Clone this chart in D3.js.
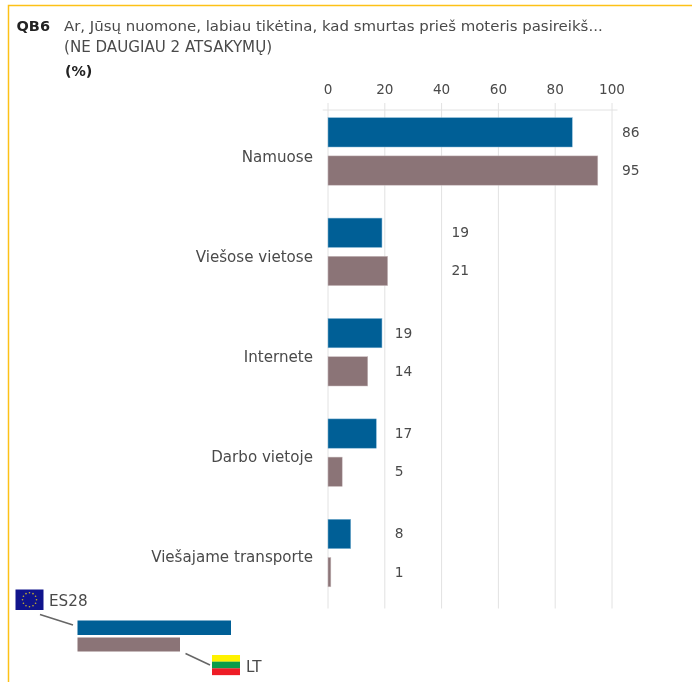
<!DOCTYPE html>
<html><head><meta charset="utf-8">
<script src="https://cdn.jsdelivr.net/npm/d3@7"></script>
<style>html,body{margin:0;padding:0;background:#fff}svg{display:block;filter:blur(0.35px)}text{font-family:"DejaVu Sans",sans-serif}</style>
</head><body><svg id="c" width="692" height="682"></svg>
<script>
const categories=["Namuose","Viešose vietose","Internete","Darbo vietoje","Viešajame transporte"];
const es28=[86,19,19,17,8];
const lt=[95,21,14,5,1];
const ticks=[0,20,40,60,80,100];
const titleCode="QB6";
const titleLines=["Ar, Jūsų nuomone, labiau tikėtina, kad smurtas prieš moteris pasireikš...","(NE DAUGIAU 2 ATSAKYMŲ)"];
const unit="(%)";
const legendNames=["ES28","LT"];

const BLUE="#005f96",BROWN="#8b7477",TXT="#4a4a4a";
const svg=d3.select("#c");
svg.append("path").attr("d","M8.5,682V5.5H692").attr("fill","none").attr("stroke","#fdc117").attr("stroke-width",1.5);

const x=d3.scaleLinear().domain([0,100]).range([328,612]);
const y=d3.scaleBand().domain(categories).range([117.7,619.7]);
const barH=29.3, barGap=38.2;

svg.append("g").selectAll("line").data(ticks).join("line")
 .attr("x1",d=>x(d)).attr("x2",d=>x(d)).attr("y1",103).attr("y2",608.5)
 .attr("stroke","#e2e2e2").attr("stroke-width",1);
svg.append("line").attr("x1",322.7).attr("x2",617.5).attr("y1",110).attr("y2",110).attr("stroke","#e2e2e2");

svg.append("g").selectAll("text").data(ticks).join("text")
 .attr("x",d=>x(d)).attr("y",94).attr("text-anchor","middle").attr("font-size",13.6).attr("fill",TXT).text(d=>d);

const g=svg.append("g").selectAll("g").data(categories).join("g")
 .attr("transform",d=>`translate(0,${y(d)})`);
[es28,lt].forEach((vals,s)=>{
 g.append("rect").attr("x",x(0)).attr("y",s*barGap)
  .attr("width",(d,i)=>x(vals[i])-x(0)).attr("height",barH)
  .attr("fill",s?BROWN:BLUE).attr("stroke",s?"#c9bcbe":"#7fb4d4").attr("stroke-width",0.5);
 g.append("text")
  .attr("x",(d,i)=>x(Math.ceil(Math.max(es28[i],lt[i])/20)*20)+10)
  .attr("y",s*barGap+barH/2+4.5)
  .attr("font-size",13.8).attr("fill",TXT).text((d,i)=>vals[i]);
});
g.append("text").attr("x",313).attr("y",(d,i)=>44.5-i*0.4).attr("text-anchor","end")
 .attr("font-size",15.1).attr("fill",TXT).text(d=>d);

const t=svg.append("g");
t.append("text").attr("x",16.5).attr("y",30.5).attr("font-size",14.5).attr("font-weight",700).attr("fill","#222").text(titleCode);
titleLines.forEach((l,i)=>t.append("text").attr("x",64).attr("y",31+i*20.5).attr("font-size",i?15.1:14.95).attr("fill",TXT).text(l));
t.append("text").attr("x",65).attr("y",75.5).attr("font-size",14.3).attr("font-weight",700).attr("fill","#222").text(unit);

// legend
const L=svg.append("g");
L.append("rect").attr("x",77.5).attr("y",620.5).attr("width",153.5).attr("height",14.5).attr("fill",BLUE);
L.append("rect").attr("x",77.5).attr("y",637.5).attr("width",102.5).attr("height",14).attr("fill",BROWN);
L.append("rect").attr("x",15.5).attr("y",589.5).attr("width",28).attr("height",20.5).attr("fill","#10148c");
const stars=d3.range(12).map(i=>i*Math.PI/6);
L.append("g").selectAll("circle").data(stars).join("circle")
 .attr("cx",a=>29.5+7*Math.sin(a)).attr("cy",a=>599.7-7*Math.cos(a)).attr("r",0.8).attr("fill","#c9b22c");
L.append("line").attr("x1",40).attr("y1",614.5).attr("x2",73).attr("y2",625).attr("stroke","#666").attr("stroke-width",1.5);
L.append("line").attr("x1",185.5).attr("y1",653.5).attr("x2",210).attr("y2",665).attr("stroke","#666").attr("stroke-width",1.5);
["#fff200","#0a9c49","#ee1c25"].forEach((c,i)=>L.append("rect").attr("x",212).attr("y",655+i*6.67).attr("width",28).attr("height",6.8).attr("fill",c));
L.append("text").attr("x",49).attr("y",606).attr("font-size",15.2).attr("fill",TXT).text(legendNames[0]);
L.append("text").attr("x",246).attr("y",672).attr("font-size",15.2).attr("fill",TXT).text(legendNames[1]);
</script></body></html>
